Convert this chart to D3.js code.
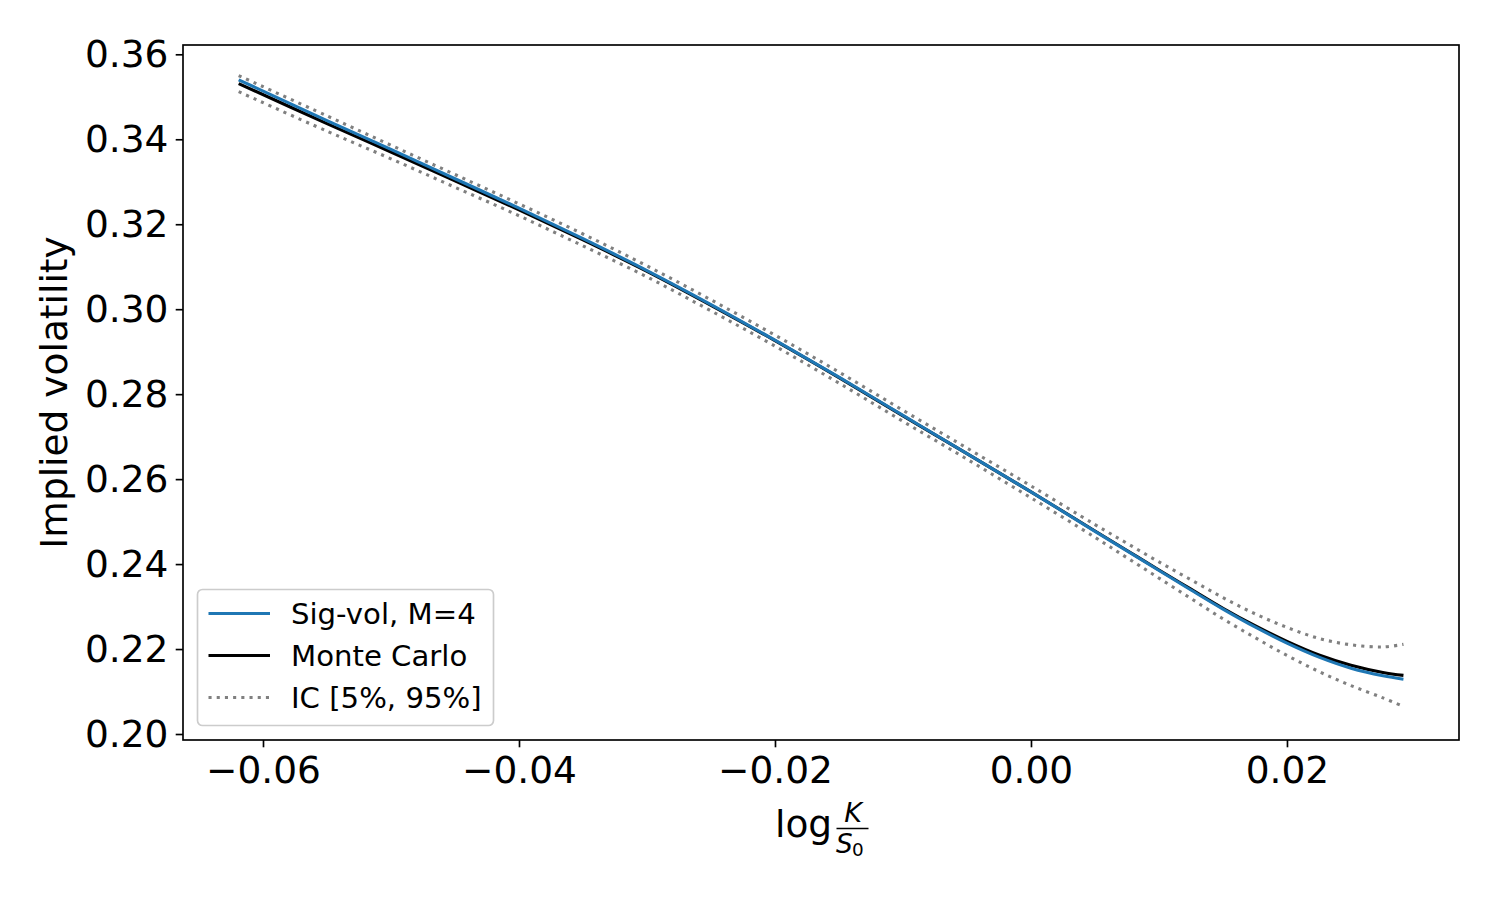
<!DOCTYPE html>
<html><head><meta charset="utf-8">
<script src="https://cdn.jsdelivr.net/npm/d3@7"></script>
<style>body{margin:0;background:#fff} svg{display:block} text{font-family:"DejaVu Sans",sans-serif;fill:#000}</style>
</head><body><svg id="c" width="1500" height="900"></svg>
<script>
const logMoneyness = [-0.0619,-0.055,-0.050,-0.045,-0.040,-0.035,-0.030,-0.025,-0.020,-0.015,-0.010,-0.005,0.000,0.005,0.0075,0.010,0.0125,0.015,0.0175,0.020,0.0225,0.025,0.0275,0.0291];
const sigVol     = [0.3540,0.3444,0.3376,0.3307,0.3238,0.3166,0.3091,0.3011,0.2927,0.2840,0.2750,0.2660,0.2570,0.2477,0.2431,0.2385,0.2339,0.2294,0.2252,0.2214,0.2181,0.2155,0.2137,0.2129];
const monteCarlo = [0.3531,0.3437,0.3370,0.3302,0.3234,0.3163,0.3089,0.3009,0.2926,0.2839,0.2749,0.2660,0.2570,0.2478,0.2432,0.2386,0.2341,0.2296,0.2255,0.2218,0.2186,0.2162,0.2145,0.2138];
const icUpper    = [0.3550,0.3455,0.3386,0.3317,0.3248,0.3177,0.3102,0.3022,0.2939,0.2852,0.2762,0.2673,0.2584,0.2493,0.2449,0.2405,0.2363,0.2321,0.2283,0.2251,0.2225,0.2210,0.2205,0.2211];
const icLower    = [0.3512,0.3419,0.3354,0.3287,0.3220,0.3149,0.3076,0.2996,0.2913,0.2826,0.2736,0.2647,0.2556,0.2463,0.2415,0.2367,0.2319,0.2271,0.2227,0.2185,0.2147,0.2114,0.2085,0.2065];
const xTicks = [-0.06,-0.04,-0.02,0.00,0.02];
const yTicks = [0.20,0.22,0.24,0.26,0.28,0.30,0.32,0.34,0.36];
const legendLabels = ["Sig-vol, M=4","Monte Carlo","IC [5%, 95%]"];
const yLabel = "Implied volatility";

const svg = d3.select("#c");
const L=183, R=1459, T=45, B=740;
const x = d3.scaleLinear().domain([-0.06625,0.03344]).range([L,R]);
const y = d3.scaleLinear().domain([0.19859,0.36219]).range([B,T]);
const lw = 3.1;
const dash = "3.1,5.1";

function series(vals){ return logMoneyness.map((d,i)=>[d,vals[i]]); }
const line = d3.line().x(d=>x(d[0])).y(d=>y(d[1])).curve(d3.curveCatmullRom.alpha(0.5));

const plots = [
  {v:monteCarlo, c:"#000000", d:null},
  {v:sigVol, c:"#1f77b4", d:null},
  {v:icUpper, c:"#808080", d:dash},
  {v:icLower, c:"#808080", d:dash}
];
plots.forEach(p=>{
  svg.append("path").attr("d", line(series(p.v))).attr("fill","none")
    .attr("stroke",p.c).attr("stroke-width",lw).attr("stroke-dasharray",p.d);
});

// axes
const fmt = d3.format(".2f");
const xAxis = d3.axisBottom(x).tickValues(xTicks).tickFormat(fmt).tickSizeOuter(0).tickSize(7.3).tickPadding(7.3);
const yAxis = d3.axisLeft(y).tickValues(yTicks).tickFormat(fmt).tickSizeOuter(0).tickSize(7.3).tickPadding(7.3);
const gx = svg.append("g").attr("transform",`translate(0,${B})`).call(xAxis);
const gy = svg.append("g").attr("transform",`translate(${L},0)`).call(yAxis);
[gx,gy].forEach(g=>{
  g.select(".domain").remove();
  g.selectAll(".tick line").attr("stroke","#000").attr("stroke-width",1.67);
  g.selectAll(".tick text").attr("font-size",37.5).attr("font-family","DejaVu Sans").attr("fill","#000");
});
gx.selectAll(".tick text").attr("dy",null).attr("y",43);
gy.selectAll(".tick text").attr("dy",null).attr("y",12.5);

svg.append("rect").attr("x",L).attr("y",T).attr("width",R-L).attr("height",B-T)
  .attr("fill","none").attr("stroke","#000").attr("stroke-width",1.67);

// y label
svg.append("text").attr("transform",`translate(67,${(T+B)/2}) rotate(-90)`)
  .attr("text-anchor","middle").attr("font-size",37.5).text(yLabel);

// x label: log K/S0
const xl = svg.append("g");
xl.append("text").attr("x",775).attr("y",837).attr("font-size",37.5).text("log");
xl.append("text").attr("x",853).attr("y",822).attr("text-anchor","middle").attr("font-size",27).attr("font-style","italic").text("K");
xl.append("line").attr("x1",836.5).attr("x2",868.5).attr("y1",828.5).attr("y2",828.5).attr("stroke","#000").attr("stroke-width",1.6);
xl.append("text").attr("x",836).attr("y",853).attr("font-size",26.25).attr("font-style","italic").text("S");
xl.append("text").attr("x",852).attr("y",856).attr("font-size",18.4).text("0");

// legend
const lg = svg.append("g");
lg.append("rect").attr("x",197.5).attr("y",589.5).attr("width",296).attr("height",136).attr("rx",5)
  .attr("fill","#fff").attr("fill-opacity",0.8).attr("stroke","#cccccc").attr("stroke-width",1.67);
const legendStyles = [{c:"#1f77b4",d:null},{c:"#000000",d:null},{c:"#808080",d:dash}];
const rowY = [613.5,655.5,697.5];
legendLabels.forEach((t,i)=>{
  lg.append("line").attr("x1",208.5).attr("x2",270).attr("y1",rowY[i]).attr("y2",rowY[i])
    .attr("stroke",legendStyles[i].c).attr("stroke-width",lw).attr("stroke-dasharray",legendStyles[i].d);
  lg.append("text").attr("x",291).attr("y",rowY[i]+10.5).attr("font-size",29.17).text(t);
});
</script></body></html>
